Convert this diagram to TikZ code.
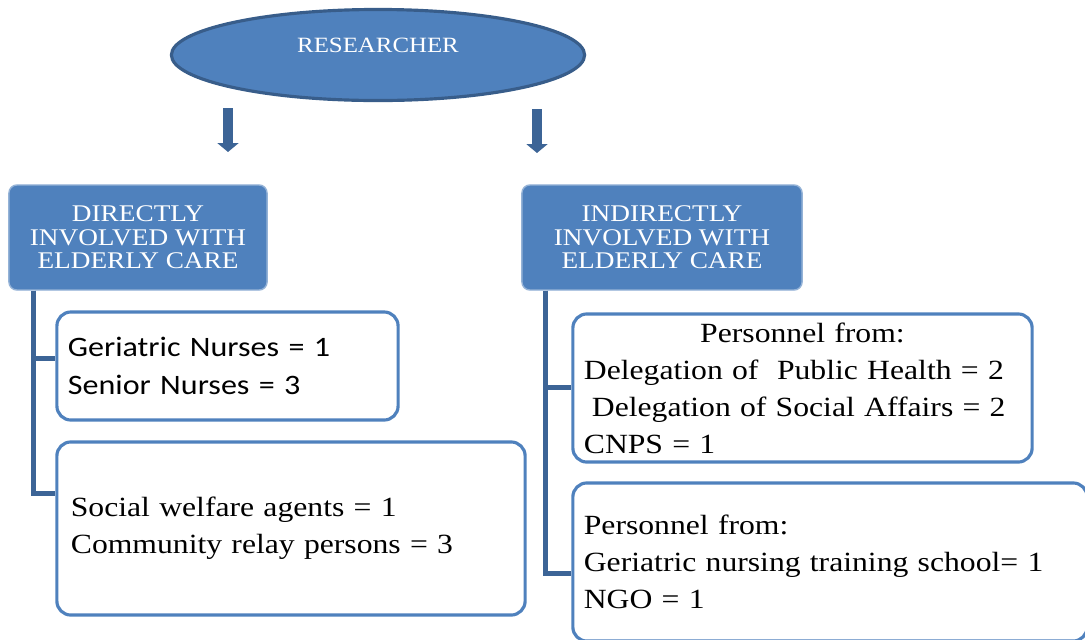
\documentclass[tikz,border=0pt]{standalone}
\usepackage{fontspec}
\setmainfont{Liberation Serif}[FakeStretch=1.14]
\newfontfamily\calibrifont{Carlito}[FakeStretch=1.14]
\usetikzlibrary{arrows.meta,positioning,calc,shapes.geometric}
\definecolor{boxblue}{HTML}{4F81BD}
\definecolor{rimblue}{HTML}{385D8A}
\definecolor{linkblue}{HTML}{3C6496}

\begin{document}
\begin{tikzpicture}[x=0.01cm,y=-0.01cm,
  headbox/.style={rectangle,rounded corners=0.08cm,fill=boxblue,draw=boxblue!60!white,line width=0.4pt,
    text=white,align=center,font=\fontsize{6.8}{6.7}\selectfont,minimum height=1.05cm,inner sep=0pt},
  infobox/.style={rectangle,rounded corners=0.14cm,draw=boxblue,line width=0.9pt,fill=white,
    align=left,font=\fontsize{7.9}{10.5}\selectfont,inner ysep=0pt},
  trunk/.style={draw=linkblue,line width=1.3pt},
  bigarrow/.style={draw=linkblue,line width=0.1cm,-{Triangle[length=0.09cm,width=0.21cm]}}]
\clip (0,0) rectangle (1085,639);

% top
\node[ellipse,minimum width=4.13cm,minimum height=0.91cm,fill=boxblue,draw=rimblue,line width=0.9pt,
  text=white,font=\fontsize{6.2}{7}\selectfont,text height=4.2pt,text depth=5.9pt] (researcher) at (378,55) {RESEARCHER};
\coordinate (lefttop) at (228,108);
\coordinate (lefttip) at (228,152);
\coordinate (righttop) at (537,109);
\coordinate (righttip) at (537,153);
\draw[bigarrow] (lefttop) -- (lefttip);
\draw[bigarrow] (righttop) -- (righttip);

% the two groups
\node[headbox,minimum width=2.58cm] (direct) at (138,237.5) {DIRECTLY\\INVOLVED WITH\\ELDERLY CARE};
\node[headbox,minimum width=2.80cm] (indirect) at (662,237.5) {INDIRECTLY\\INVOLVED WITH\\ELDERLY CARE};

% directly involved
\node[infobox,text width=3.19cm,inner xsep=0.11cm,minimum height=1.08cm,
  font=\calibrifont\fontsize{8}{10.8}\selectfont] (nurses) at (227.5,366) {Geriatric Nurses = 1\\Senior Nurses = 3};
\node[infobox,text width=4.40cm,inner xsep=0.14cm,minimum height=1.73cm] (welfare) at (291,528.5)
  {Social welfare agents = 1\\Community relay persons = 3};

% indirectly involved
\node[infobox,text width=4.37cm,inner xsep=0.11cm,minimum height=1.48cm] (delegation) at (802.5,388)
  {\makebox[\linewidth]{Personnel from:}\\Delegation of\ \ Public Health = 2\\\hspace*{0.08cm}Delegation of Social Affairs = 2\\CNPS = 1};
\node[infobox,text width=4.92cm,inner xsep=0.11cm,minimum height=1.58cm] (school) at (830,562)
  {Personnel from:\\Geriatric nursing training school= 1\\NGO = 1};

% links
\draw[trunk] ([xshift=0.25cm]direct.south west) |- ([yshift=-0.48cm]nurses.north west);
\draw[trunk] ([xshift=0.25cm]direct.south west) |- ([yshift=-0.53cm]welfare.north west);
\draw[trunk] ([xshift=0.24cm]indirect.south west) |- ([yshift=-0.75cm]delegation.north west);
\draw[trunk] ([xshift=0.24cm]indirect.south west) |- ([yshift=-0.92cm]school.north west);
\end{tikzpicture}
\end{document}
